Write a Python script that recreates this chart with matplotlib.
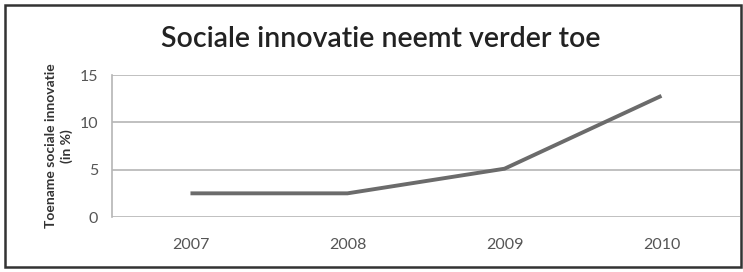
import matplotlib
matplotlib.use("Agg")
import matplotlib.pyplot as plt
from matplotlib.patches import Rectangle

years = ["2007", "2008", "2009", "2010"]
growth = [2.5, 2.5, 5.1, 12.8]
y_ticks = [0, 5, 10, 15]

plt.rcParams['font.family'] = ['Lato', 'DejaVu Sans']

fig = plt.figure(figsize=(7.43, 2.72), dpi=100)
ax = fig.add_axes([0.1507, 0.2022, 0.8452, 0.522])

x = range(len(years))
ax.plot(x, growth, color="#6b6b6b", linewidth=2.8, solid_capstyle="butt")

ax.set_xlim(-0.5, len(years) - 0.5)
ax.set_ylim(0, 15)
ax.set_yticks(y_ticks)
ax.set_xticks(list(x))
ax.set_xticklabels(years)
ax.grid(axis="y", color="#b5b5b5", linewidth=1.2)
ax.set_axisbelow(True)
for side in ["top", "right", "bottom"]:
    ax.spines[side].set_visible(False)
ax.spines["left"].set_color("#b5b5b5")
ax.spines["left"].set_linewidth(1.2)
ax.tick_params(axis="both", length=0, labelsize=11.5, labelcolor="#555555")
ax.tick_params(axis="x", pad=15)
ax.tick_params(axis="y", pad=10)

ax.set_ylabel("Toename sociale innovatie\n(in %)", fontsize=10, fontweight="bold",
              color="#333333", linespacing=1.3, labelpad=5)

fig.text(0.513, 0.855, "Sociale innovatie neemt verder toe", ha="center", va="center",
         fontsize=20.5, fontweight="semibold", color="#222222")

fig.patches.append(Rectangle((0.007, 0.018), 0.99, 0.965, transform=fig.transFigure,
                             fill=False, edgecolor="#333333", linewidth=1.8))

fig.savefig("out.png", dpi=100)
